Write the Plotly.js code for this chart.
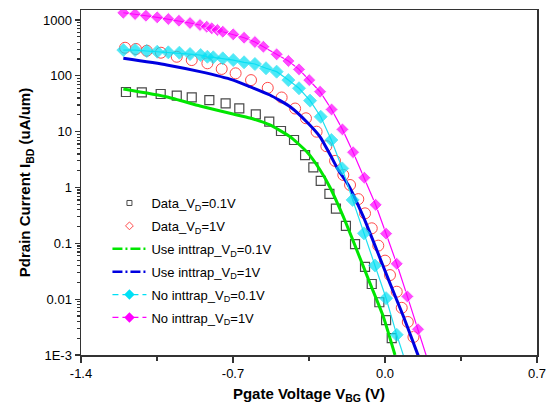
<!DOCTYPE html>
<html><head><meta charset="utf-8">
<script src="https://cdn.plot.ly/plotly-3.0.1.min.js"></script>
<style>html,body{margin:0;padding:0;background:#fff}#plot{width:550px;height:407px}</style>
</head><body><div id="plot"></div>
<script>
// Data_VD=0.1V (open squares)
const dataLowX = [-1.193,-1.120,-1.033,-0.959,-0.890,-0.809,-0.734,-0.671,-0.595,-0.533,-0.479,-0.419,-0.368,-0.330,-0.296,-0.256,-0.226,-0.180,-0.138,-0.092,-0.061,-0.026,0.005,0.031];
const dataLowY = [51.4,50.7,47.3,44.1,41.3,36.9,32.2,26.2,20.5,15.1,10.3,7.1,3.8,2.3,1.32,0.77,0.42,0.205,0.097,0.038,0.0187,0.0088,0.0042,0.0020];
// Data_VD=1V (open circles)
const dataHighX = [-1.197,-1.147,-1.097,-1.032,-0.959,-0.890,-0.818,-0.752,-0.688,-0.617,-0.540,-0.476,-0.414,-0.364,-0.315,-0.270,-0.230,-0.192,-0.161,-0.123,-0.092,-0.061,-0.031,0.000,0.023,0.054,0.077,0.105,0.131];
const dataHighY = [319,303,282,260,220,192,168,133,111,84,61,41,26,17.4,10,5.5,3.0,1.68,1.11,0.62,0.345,0.186,0.091,0.049,0.027,0.0136,0.0070,0.0039,0.0021];
// Use inttrap_VD=0.1V (green line)
const useLowX = [-1.205,-1.003,-0.852,-0.700,-0.622,-0.530,-0.437,-0.361,-0.299,-0.253,-0.192,-0.130,-0.069,-0.008,0.046];
const useLowY = [58,41.8,28.8,20.7,17.6,13.2,8.1,4.4,2.06,1.0,0.30,0.076,0.0192,0.0049,0.001];
// Use inttrap_VD=1V (blue line)
const useHighX = [-1.205,-1.005,-0.852,-0.699,-0.622,-0.530,-0.437,-0.361,-0.299,-0.253,-0.215,-0.169,-0.100,-0.038,0.023,0.085,0.149,0.156];
const useHighY = [206,157,119,84,64,45.4,28,15.1,8.1,3.9,2.06,1.11,0.30,0.076,0.0192,0.0049,0.00107,0.0009];
// No inttrap_VD=0.1V (cyan diamonds)
const noLowX = [-1.205,-1.151,-1.097,-1.049,-0.998,-0.947,-0.898,-0.849,-0.818,-0.791,-0.747,-0.699,-0.649,-0.599,-0.548,-0.499,-0.445,-0.396,-0.345,-0.296,-0.247,-0.197,-0.149,-0.097,-0.046,0.005,0.054];
const noLowY = [290,290,279,271,264,260,246,236,220,215,206,192,175,163,137,119,84,60,36,18.5,7.1,2.2,0.60,0.151,0.040,0.0104,0.0023];
const noLowEndX = [0.088];
const noLowEndY = [0.0009];
// No inttrap_VD=1V (magenta diamonds)
const noHighX = [-1.205,-1.151,-1.101,-1.049,-0.998,-0.949,-0.898,-0.852,-0.821,-0.798,-0.772,-0.747,-0.699,-0.649,-0.599,-0.560,-0.499,-0.445,-0.396,-0.349,-0.299,-0.246,-0.196,-0.147,-0.095,-0.043,0.005,0.054,0.103,0.152];
const noHighY = [1352,1282,1194,1118,1043,972,885,815,759,711,663,618,555,482,404,333,243,185,131,84,52,25,11,4.3,1.5,0.49,0.149,0.043,0.0112,0.0029];
const noHighEndX = [0.192];
const noHighEndY = [0.00092];
// Series names
const names = ['Data_V<sub>D</sub>=0.1V','Data_V<sub>D</sub>=1V','Use inttrap_V<sub>D</sub>=0.1V',
  'Use inttrap_V<sub>D</sub>=1V','No inttrap_V<sub>D</sub>=0.1V','No inttrap_V<sub>D</sub>=1V'];
// Axis ticks
const xTickVals = [-1.4,-0.7,0.0,0.7];
const xTickText = ['-1.4','-0.7','0.0','0.7'];
const yTickVals = [0.001,0.01,0.1,1,10,100,1000];
const yTickText = ['1E-3','0.01','0.1','1','10','100','1000'];

const font = {family:'Liberation Sans, Arial, sans-serif', color:'#000'};
const sizes = (n, m, s) => Array.from({length:n+m}, (_, i) => i < n ? s : 0);

const C = {sq:'#4a4a4a', ci:'#ff4a4a', gr:'#00e600', bl:'#0000e0', cy:'#00e0f5', mg:'#ff00ff'};

const traces = [
  {x:dataLowX, y:dataLowY, mode:'markers', showlegend:false,
   marker:{symbol:'square-open', size:9, color:C.sq, line:{width:1.2}}},
  {x:dataHighX, y:dataHighY, mode:'markers', showlegend:false,
   marker:{symbol:'circle-open', size:11, color:C.ci, line:{width:1}}},
  {x:useLowX, y:useLowY, mode:'lines', showlegend:false,
   line:{color:C.gr, width:3, shape:'spline', smoothing:0.5}},
  {x:useHighX, y:useHighY, mode:'lines', showlegend:false,
   line:{color:C.bl, width:3, shape:'spline', smoothing:0.5}},
  {x:noLowX.concat(noLowEndX), y:noLowY.concat(noLowEndY), mode:'lines+markers', showlegend:false,
   line:{color:'#22e0f0', width:1.2},
   marker:{symbol:'diamond', size:sizes(noLowX.length, noLowEndX.length, 10), color:C.cy}},
  {x:noHighX.concat(noHighEndX), y:noHighY.concat(noHighEndY), mode:'lines+markers', showlegend:false,
   line:{color:C.mg, width:1.2},
   marker:{symbol:'diamond', size:sizes(noHighX.length, noHighEndX.length, 10), color:C.mg}},
  // legend entries (no data drawn)
  {x:[null], y:[null], mode:'markers', name:names[0], legendgroup:'a',
   marker:{symbol:'square-open', size:5, color:C.sq, line:{width:1}}},
  {x:[null], y:[null], mode:'markers', name:names[1], legendgroup:'b',
   marker:{symbol:'diamond-open', size:6, color:C.ci, line:{width:1}}},
  {x:[null], y:[null], mode:'lines', name:names[2], legendgroup:'c',
   line:{color:C.gr, width:2.5, dash:'10px,3px,2px,3px'}},
  {x:[null], y:[null], mode:'lines', name:names[3], legendgroup:'d',
   line:{color:C.bl, width:2.5, dash:'10px,3px,2px,3px'}},
  {x:[null], y:[null], mode:'lines+markers', name:names[4], legendgroup:'e',
   line:{color:C.cy, width:1.2, dash:'6px,4px'}, marker:{symbol:'diamond', size:8, color:C.cy}},
  {x:[null], y:[null], mode:'lines+markers', name:names[5], legendgroup:'f',
   line:{color:C.mg, width:1.2, dash:'6px,4px'}, marker:{symbol:'diamond', size:8, color:C.mg}}
];

const yr = [-3, 3.18];
const layout = {
  width:550, height:407,
  margin:{l:81, r:13, t:10, b:52},
  paper_bgcolor:'#fff', plot_bgcolor:'#fff',
  font:Object.assign({size:13}, font),
  showlegend:true,
  legend:{x:0.058, y:0.484, xanchor:'left', yanchor:'top', bgcolor:'rgba(0,0,0,0)',
    font:Object.assign({size:13}, font), tracegroupgap:3, itemwidth:34},
  xaxis:{range:[-1.4,0.7], tickmode:'array', tickvals:xTickVals, ticktext:xTickText,
    ticks:'outside', ticklen:6, tickwidth:1.2, tickcolor:'#333',
    minor:{tickmode:'linear', tick0:-1.4, dtick:0.35, ticks:'outside', ticklen:4, tickcolor:'#333'},
    showline:true, linecolor:'#333', linewidth:1.5, mirror:true, showgrid:false, zeroline:false,
    tickfont:Object.assign({size:13}, font),
    title:{text:'<b>Pgate Voltage V<sub>BG</sub> (V)</b>', font:Object.assign({size:15}, font), standoff:8}},
  yaxis:{type:'log', range:yr, tickmode:'array', tickvals:yTickVals, ticktext:yTickText,
    ticks:'outside', ticklen:5, tickwidth:1.2, tickcolor:'#333',
    minor:{ticks:'outside', ticklen:3, dtick:'D1', tickcolor:'#333'},
    showline:true, linecolor:'#333', linewidth:1.5, mirror:true, showgrid:false, zeroline:false,
    tickfont:Object.assign({size:13}, font),
    title:{text:'<b>Pdrain Current I<sub>BD</sub> (uA/um)</b>', font:Object.assign({size:15}, font), standoff:8}},
  xaxis2:{overlaying:'x', side:'top', range:[-1.4,0.7], anchor:'y', tickmode:'linear', tick0:-1.4, dtick:0.35,
    ticks:'inside', ticklen:6, tickcolor:'#333', showticklabels:false, showgrid:false, zeroline:false, showline:false},
  yaxis2:{overlaying:'y', side:'right', type:'log', range:yr, anchor:'x', tickmode:'array', tickvals:yTickVals,
    ticks:'inside', ticklen:5, tickcolor:'#333', showticklabels:false, showgrid:false, zeroline:false, showline:false,
    minor:{ticks:'inside', ticklen:3, dtick:'D1', tickcolor:'#333'}}
};
Plotly.newPlot('plot', traces, layout, {staticPlot:true, displayModeBar:false});
</script></body></html>
